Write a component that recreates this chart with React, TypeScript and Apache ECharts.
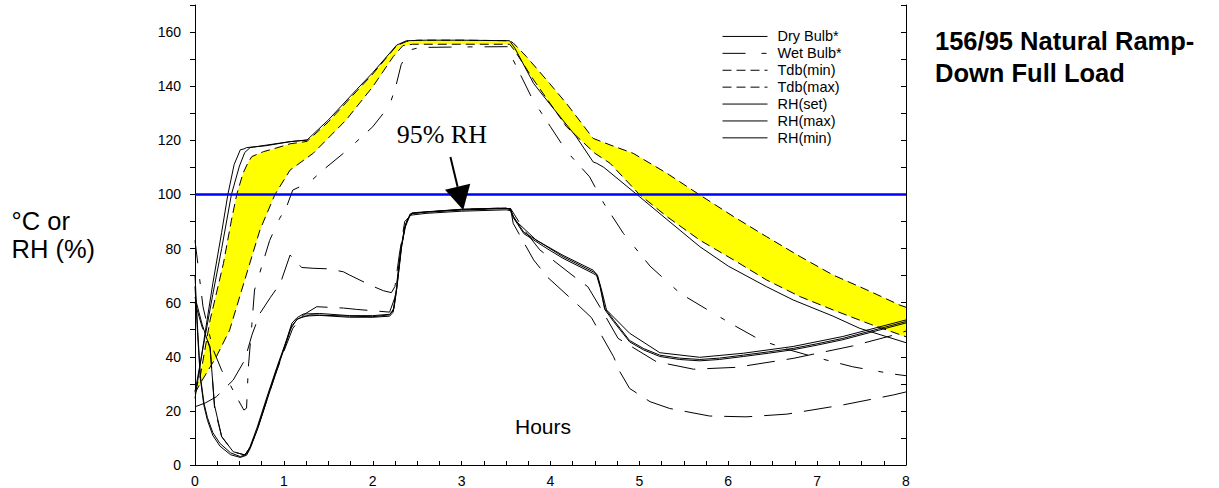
import React, { useEffect, useRef } from 'react';
import * as echarts from 'echarts';

type Pt = [number, number];

const xTickLabels = [0, 1, 2, 3, 4, 5, 6, 7, 8];
const yTickLabels = [0, 20, 40, 60, 80, 100, 120, 140, 160];
const legendNames = ['Dry Bulb*', 'Wet Bulb*', 'Tdb(min)', 'Tdb(max)', 'RH(set)', 'RH(max)', 'RH(min)'];
const rhTarget = 100;

const dryBulb: Pt[] = [[0,24.6],[0.1,46],[0.2,67],[0.3,86],[0.37,100],[0.44,111],[0.51,116.5],[0.55,116.8],[0.58,117.3],[0.8,118],[1.07,119.5],[1.26,120.1],[1.5,127.5],[1.82,138.8],[2.0,145],[2.27,155.2],[2.38,156.8],[2.6,157],[3.0,157],[3.54,156.8],[3.6,154],[3.81,141],[3.99,133.5],[4.29,121.3],[4.48,112],[4.52,111.5],[4.6,110],[5.0,99.2],[5.3,91],[5.68,80.7],[6.0,73.5],[6.43,65.9],[6.73,61],[7.18,55],[7.48,50.5],[8,45.2]];
const dryBulb2: Pt[] = [[0,27],[0.1,45],[0.2,63],[0.3,80],[0.41,100],[0.5,110.5],[0.56,115.5],[0.62,117.3],[0.8,118.2],[1.07,119.5],[1.26,120.1]];
const tdbMax: Pt[] = [[0,27.5],[0.06,33],[0.17,53.6],[0.32,74.5],[0.41,90.5],[0.47,100],[0.54,107.8],[0.6,112],[0.64,114],[0.77,115.8],[0.9,117],[1.07,118.7],[1.26,119.6],[1.5,126.8],[1.82,138.2],[2.0,144.5],[2.27,155],[2.38,156.5],[2.5,157],[3.0,157],[3.54,156.8],[3.58,156],[3.73,150.9],[3.99,141],[4.18,133.6],[4.48,120.7],[4.67,118.3],[4.93,115.2],[5.31,107.8],[5.68,99.8],[6.06,91.8],[6.43,84.4],[6.81,77],[7.18,70.2],[7.56,64.7],[7.93,59.1],[8,58.3]];
const tdbMin: Pt[] = [[0,26.5],[0.06,30.2],[0.24,40],[0.39,49.9],[0.56,68.4],[0.73,86.8],[0.9,100],[1.07,109],[1.33,115.2],[1.7,127.5],[2.0,139.8],[2.23,150.9],[2.34,155],[2.45,155.5],[3.0,155.5],[3.54,155.5],[3.6,153],[3.81,142.3],[4.18,125],[4.5,115.2],[4.67,111.5],[5.0,100],[5.31,91.8],[5.68,83.1],[6.06,75.8],[6.43,68.4],[6.81,62.2],[7.18,57.3],[7.6,52],[8,47.4]];
const wetBulb: Pt[] = [[0,83],[0.09,58.5],[0.2,43],[0.3,35],[0.39,30],[0.47,25],[0.55,20.3],[0.58,21],[0.6,36],[0.64,52],[0.67,64.7],[0.75,73.3],[0.84,83],[0.95,91],[1.03,95.4],[1.1,101.6],[1.29,104.5],[1.44,109],[1.7,116],[2.0,125],[2.12,130],[2.2,134],[2.26,140],[2.32,148],[2.42,153.4],[2.53,154.3],[3.0,154.5],[3.54,154.6],[3.58,149.7],[3.8,135],[4.0,125],[4.18,116],[4.44,106.5],[4.6,96.7],[4.82,85.6],[5.12,73.5],[5.46,63.4],[5.76,57.5],[6.06,51.7],[6.36,46.2],[6.66,42.8],[6.96,40],[7.4,36.3],[7.86,33.6],[8,33]];
const rhSet: Pt[] = [[0,70],[0.03,50],[0.06,33],[0.1,23],[0.14,17.5],[0.2,12],[0.28,8],[0.4,4.5],[0.51,3.1],[0.58,4],[0.62,6.8],[0.7,14],[0.81,25.2],[0.92,36],[1.03,46.2],[1.09,52.4],[1.15,54.5],[1.22,55.8],[1.4,56],[1.74,55.2],[2.0,55.2],[2.19,55.7],[2.23,57],[2.27,66],[2.32,80.7],[2.36,88],[2.42,92.8],[2.6,93.5],[3.0,94.2],[3.5,94.8],[3.55,94.5],[3.58,92],[3.7,86],[3.96,80.7],[4.14,77],[4.48,71.4],[4.52,70.5],[4.56,66],[4.61,58],[4.71,53.6],[4.89,46],[5.05,43],[5.23,40.6],[5.45,39.5],[5.68,39],[5.9,39.5],[6.17,40.6],[6.45,41.8],[6.73,43.1],[7.0,44.8],[7.29,46.8],[7.6,49.5],[8,53]];
const rhMax: Pt[] = [[0,62],[0.08,52],[0.17,43],[0.22,22],[0.3,10.5],[0.43,4.9],[0.56,3.7],[0.62,6.5],[0.7,13],[0.8,23.5],[0.9,33.5],[1.0,43],[1.07,50],[1.15,54],[1.3,55.5],[1.74,55],[2.0,54.8],[2.19,55.5],[2.24,58],[2.28,68],[2.33,82],[2.38,90],[2.44,93.2],[3.0,94.5],[3.5,95],[3.55,94.2],[3.6,90.5],[3.84,83.1],[4.14,77.5],[4.48,72],[4.53,70],[4.58,64],[4.63,57.3],[4.89,48.7],[5.23,41.5],[5.68,39.8],[6.17,41.3],[6.73,43.8],[7.29,47.5],[8,53.6]];
const rhMin: Pt[] = [[0,66],[0.03,48],[0.06,32],[0.1,22],[0.14,16.5],[0.2,11],[0.28,7],[0.4,3.8],[0.51,2.8],[0.58,3.6],[0.62,6],[0.7,13],[0.81,24],[0.92,35],[1.03,45.5],[1.09,51.5],[1.15,53.8],[1.22,55],[1.4,55.3],[1.74,54.6],[2.0,54.6],[2.19,55],[2.23,56.5],[2.27,65],[2.32,80],[2.36,87.5],[2.42,92.3],[2.6,93],[3.0,93.8],[3.5,94.3],[3.55,94],[3.58,91.5],[3.7,85.5],[3.96,80],[4.14,76.4],[4.48,70.8],[4.52,70],[4.56,65.5],[4.61,57.5],[4.71,53],[4.89,45.5],[5.05,42.5],[5.23,40.1],[5.45,39],[5.68,38.5],[5.9,39],[6.17,40.1],[6.45,41.3],[6.73,42.6],[7.0,44.3],[7.29,46.3],[7.6,49],[8,52.5]];
const rhDashA: Pt[] = [[0,21.5],[0.12,23],[0.24,25.2],[0.43,31.4],[0.56,38.8],[0.64,48],[0.73,56],[0.85,62],[0.96,67.1],[1.07,77.6],[1.2,73],[1.33,72.7],[1.5,72.5],[1.67,71.4],[1.74,70.2],[1.97,66.5],[2.12,64.4],[2.21,63.7],[2.25,66],[2.3,78],[2.36,90],[2.45,93],[3.0,94.5],[3.55,95],[3.58,89.3],[3.81,75.8],[3.96,69.6],[4.33,58.5],[4.46,54.5],[4.71,40],[4.78,34.5],[4.89,28.3],[5.12,23.4],[5.34,20.9],[5.79,18.1],[6.2,17.8],[6.66,18.8],[7.29,22.2],[7.86,25.9],[8,27]];
const rhDashB: Pt[] = [[0,60],[0.08,51],[0.17,43.7],[0.22,21],[0.3,10.5],[0.43,4.9],[0.56,3.7],[0.62,6.5],[0.7,13],[0.8,23],[0.9,33],[1.0,42],[1.1,50.5],[1.22,55.5],[1.37,58.5],[1.67,58],[1.82,57.5],[2.19,56.5],[2.25,62],[2.3,75],[2.36,88],[2.42,93],[3.0,94.5],[3.55,94.8],[3.7,87],[3.88,79.5],[4.29,69],[4.42,65.9],[4.6,56],[4.76,46.8],[5.19,38.2],[5.61,35.4],[6.09,36.1],[6.73,39.4],[7.4,44],[7.86,48],[8,49.5]];

// annotation arrow (data coordinates)
const arrowTail: Pt = [2.874, 113.8];
const arrowTip: Pt = [3.018, 94.2];

const FONT = 'Liberation Sans, Arial, sans-serif';

function line(name: string, data: Pt[], type: any, extra: any = {}) {
  return {
    type: 'line',
    name,
    data,
    symbol: 'none',
    showSymbol: false,
    silent: true,
    z: 3,
    lineStyle: { color: '#000', width: 1, type },
    itemStyle: { color: '#000' },
    ...extra,
  };
}

export default function App() {
  const ref = useRef<HTMLDivElement>(null);
  useEffect(() => {
    if (!ref.current) return;
    const chart = echarts.init(ref.current, undefined, { renderer: 'svg' });
    const option: any = {
      animation: false,
      backgroundColor: '#fff',
      grid: { left: 195, top: 5, width: 711, height: 460 },
      legend: {
        data: legendNames,
        orient: 'vertical',
        left: 717,
        top: 23,
        padding: 5,
        itemWidth: 45,
        itemHeight: 14,
        itemGap: 0,
        selectedMode: false,
        itemStyle: { opacity: 0, color: 'rgba(0,0,0,0)', borderWidth: 0 },
        lineStyle: { color: '#000', width: 1 },
        textStyle: { fontSize: 14.5, lineHeight: 16.9, fontFamily: FONT, color: '#000', padding: [0, 0, 0, 5] },
      },
      xAxis: {
        type: 'value',
        min: 0,
        max: 8,
        interval: 1,
        axisLine: { show: true, onZero: false, lineStyle: { color: '#000', width: 1 } },
        axisTick: { show: true, inside: true, length: 4, lineStyle: { color: '#000' } },
        minorTick: { show: true, splitNumber: 4, length: 4, lineStyle: { color: '#000' } },
        axisLabel: {
          color: '#000', fontSize: 14, fontFamily: FONT, margin: 9,
          formatter: (v: number) => (xTickLabels.includes(v) ? String(v) : ''),
        },
        splitLine: { show: false },
      },
      yAxis: [
        {
          type: 'value',
          min: 0,
          max: 170,
          interval: 10,
          axisLine: { show: true, lineStyle: { color: '#000', width: 1 } },
          axisTick: { show: true, inside: false, length: 5, lineStyle: { color: '#000' } },
          axisLabel: {
            color: '#000', fontSize: 14, fontFamily: FONT, margin: 14,
            formatter: (v: number) => (yTickLabels.includes(v) ? String(v) : ''),
          },
          splitLine: { show: false },
        },
        {
          type: 'value',
          position: 'right',
          min: 0,
          max: 170,
          interval: 10,
          axisLine: { show: true, lineStyle: { color: '#000', width: 1 } },
          axisTick: { show: true, inside: true, length: 5, lineStyle: { color: '#000' } },
          axisLabel: { show: false },
          splitLine: { show: false },
        },
      ],
      series: [
        {
          type: 'custom',
          name: '_band',
          silent: true,
          z: 1,
          clip: true,
          data: [[0, 0]],
          renderItem: (params: any, api: any) => {
            const pts = [
              ...tdbMax.map((p) => api.coord(p)),
              ...tdbMin.slice().reverse().map((p) => api.coord(p)),
            ];
            return { type: 'polygon', shape: { points: pts }, style: { fill: '#ffff00', stroke: 'none' } };
          },
        },
        line('Dry Bulb*', dryBulb, 'solid', {
          markLine: {
            silent: true,
            symbol: ['none', 'none'],
            label: { show: false },
            lineStyle: { color: '#0000ff', width: 2.5, type: 'solid' },
            data: [{ yAxis: rhTarget }],
          },
        }),
        line('Wet Bulb*', wetBulb, [23, 16, 5, 12]),
        line('Tdb(min)', tdbMin, [9, 5]),
        line('Tdb(max)', tdbMax, [9, 5]),
        line('RH(set)', rhSet, 'solid'),
        line('RH(max)', rhMax, 'solid'),
        line('RH(min)', rhMin, 'solid'),
        line('_db2', dryBulb2, 'solid'),
        line('_rhA', rhDashA, [28, 12]),
        line('_rhB', rhDashB, [28, 12]),
      ],
    };
    chart.setOption(option);

    const tail = chart.convertToPixel({ gridIndex: 0 }, arrowTail) as number[];
    const tip = chart.convertToPixel({ gridIndex: 0 }, arrowTip) as number[];
    const dx = tip[0] - tail[0];
    const dy = tip[1] - tail[1];
    const len = Math.sqrt(dx * dx + dy * dy);
    const ux = dx / len, uy = dy / len;
    const headL = 24, headW = 26;
    const bx = tip[0] - ux * headL, by = tip[1] - uy * headL;
    const nx = -uy, ny = ux;

    chart.setOption({
      graphic: [
        { type: 'text', x: 935, y: 41, style: { text: '156/95 Natural Ramp-', font: `bold 25.5px ${FONT}`, fill: '#000', verticalAlign: 'middle' } },
        { type: 'text', x: 935, y: 72.5, style: { text: 'Down Full Load', font: `bold 25.5px ${FONT}`, fill: '#000', verticalAlign: 'middle' } },
        { type: 'text', x: 11.5, y: 221.3, style: { text: '°C or', font: `25.5px ${FONT}`, fill: '#000', verticalAlign: 'middle' } },
        { type: 'text', x: 11.5, y: 249, style: { text: 'RH (%)', font: `25.5px ${FONT}`, fill: '#000', verticalAlign: 'middle' } },
        { type: 'text', x: 515, y: 426.5, style: { text: 'Hours', font: `21px ${FONT}`, fill: '#000', verticalAlign: 'middle' } },
        { type: 'text', x: 396.7, y: 134.7, style: { text: '95% RH', font: `26px 'Liberation Serif', 'Times New Roman', serif`, fill: '#000', verticalAlign: 'middle' } },
        { type: 'line', z: 10, shape: { x1: tail[0], y1: tail[1], x2: bx, y2: by }, style: { stroke: '#000', lineWidth: 2 } },
        {
          type: 'polygon', z: 10,
          shape: { points: [[tip[0], tip[1]], [bx + nx * headW / 2, by + ny * headW / 2], [bx - nx * headW / 2, by - ny * headW / 2]] },
          style: { fill: '#000' },
        },
      ],
    });

    return () => chart.dispose();
  }, []);
  return <div ref={ref} style={{ position: 'absolute', left: 0, top: 0, width: 1219, height: 488 }} />;
}
